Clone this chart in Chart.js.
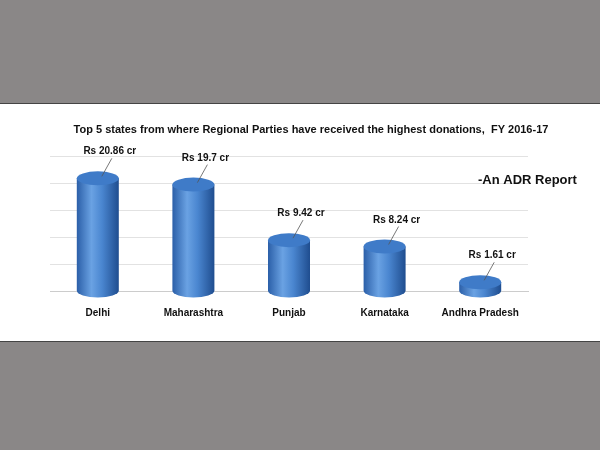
<!DOCTYPE html>
<html><head><script src="https://cdn.jsdelivr.net/npm/chart.js@4"></script>
<style>
html,body{margin:0;padding:0;background:#8a8787;width:600px;height:450px;overflow:hidden}
#w{position:absolute;left:0;top:103px;width:600px;height:237px;background:#fff;border-top:1px solid #444;border-bottom:1px solid #444}
</style></head><body>
<div id="w"><canvas id="c" width="600" height="237"></canvas></div>
<script>
const categories=["Delhi","Maharashtra","Punjab","Karnataka","Andhra Pradesh"];
const values=[20.86,19.7,9.42,8.24,1.61];
const labels=["Rs 20.86 cr","Rs 19.7 cr","Rs 9.42 cr","Rs 8.24 cr","Rs 1.61 cr"];
const titleText='Top 5 states from where Regional Parties have received the highest donations,  FY 2016-17';
const ctx=document.getElementById('c').getContext('2d');
const cyl={id:'cyl',afterDatasetsDraw(ch){
 const c=ch.ctx,meta=ch.getDatasetMeta(0);
 meta.data.forEach((b,i)=>{
  const w=b.width,x=b.x,y=b.y,base=b.base,rx=w/2,ry=7;
  const g=c.createLinearGradient(x-rx,0,x+rx,0);
  g.addColorStop(0,'#2b5fa8');g.addColorStop(0.35,'#6aa2e3');g.addColorStop(0.6,'#4a86d0');g.addColorStop(1,'#1f4d8f');
  c.save();c.fillStyle=g;
  c.beginPath();c.moveTo(x-rx,y);c.lineTo(x-rx,base);c.ellipse(x,base,rx,ry,0,Math.PI,0,true);c.lineTo(x+rx,y);c.closePath();c.fill();
  c.beginPath();c.ellipse(x,y,rx,ry,0,0,Math.PI*2);c.fillStyle='#3f7bc8';c.fill();
  c.beginPath();c.moveTo(x+4,y-2);c.lineTo(x+14,y-20);c.strokeStyle='#555';c.lineWidth=0.8;c.stroke();
  c.fillStyle='#111';c.font='bold 10px "Liberation Sans", Arial';c.textAlign='center';
  c.fillText(labels[i],x+12,y-24);
  c.restore();
 });
 c.save();c.fillStyle='#111';c.font='bold 13px "Liberation Sans", Arial';c.textAlign='left';
 c.fillText('-An ADR Report',478,80);
 c.font='bold 11px "Liberation Sans", Arial';
 c.textAlign='center';c.fillText(titleText,311,29);c.restore();
}};
new Chart(ctx,{type:'bar',data:{labels:categories,datasets:[{data:values,backgroundColor:'rgba(0,0,0,0)',barThickness:42}]},
options:{responsive:false,animation:false,
 layout:{padding:{left:50,right:72,top:52,bottom:14}},
 plugins:{legend:{display:false},tooltip:{enabled:false},title:{display:false}},
 scales:{y:{min:0,max:25,ticks:{display:false,stepSize:5},grid:{color:'#e2e2e2',drawTicks:false},border:{display:false}},
  x:{grid:{display:false},border:{color:'#ccc'},ticks:{color:'#111',font:{family:'"Liberation Sans", Arial',size:10,weight:'bold'},padding:8}}}},
plugins:[cyl]});
</script></body></html>
